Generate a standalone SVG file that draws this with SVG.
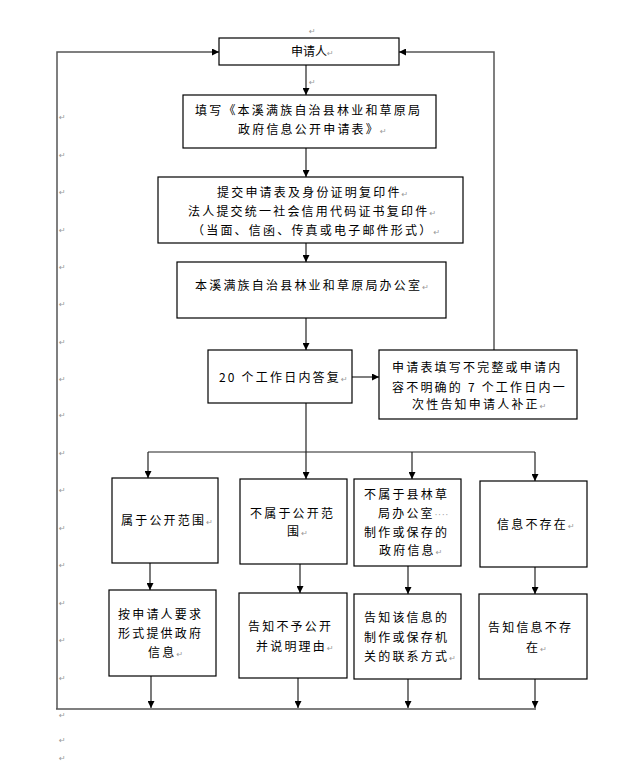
<svg xmlns="http://www.w3.org/2000/svg" width="644" height="764" viewBox="0 0 644 764">
<defs>
<marker id="ah" viewBox="0 0 10 10" refX="10" refY="5" markerWidth="7" markerHeight="7" markerUnits="userSpaceOnUse" orient="auto">
<path d="M0,0 L10,5 L0,10 Z" fill="#000"/>
</marker>
</defs>
<style>
.box{fill:#fff;stroke:#000;stroke-width:1.2}
.t{font-family:"Noto Sans CJK SC","Noto Sans",sans-serif;font-size:12px;letter-spacing:2.2px;fill:#000}
.t0{font-family:"Noto Sans CJK SC","Noto Sans",sans-serif;font-size:12px;fill:#000}
.c{fill:none;stroke:#222;stroke-width:1.2}
.g{fill:none;stroke:#555;stroke-width:1.5}
.m{font-family:"DejaVu Sans",sans-serif;font-size:8px;fill:#999;letter-spacing:0}
.d{font-family:"DejaVu Sans",sans-serif;font-size:8px;fill:#999;letter-spacing:1px}
</style>
<rect width="644" height="764" fill="#fff"/>
<g id="marks">
<text class="m" x="309" y="34">↵</text>
<text class="m" x="309" y="85">↵</text>
<text class="m" x="59" y="120">↵</text>
<text class="m" x="59" y="158">↵</text>
<text class="m" x="59" y="195">↵</text>
<text class="m" x="59" y="233">↵</text>
<text class="m" x="59" y="270">↵</text>
<text class="m" x="59" y="307">↵</text>
<text class="m" x="59" y="345">↵</text>
<text class="m" x="59" y="382">↵</text>
<text class="m" x="59" y="418">↵</text>
<text class="m" x="59" y="456">↵</text>
<text class="m" x="59" y="493">↵</text>
<text class="m" x="59" y="531">↵</text>
<text class="m" x="59" y="568">↵</text>
<text class="m" x="59" y="606">↵</text>
<text class="m" x="59" y="643">↵</text>
<text class="m" x="59" y="681">↵</text>
<text class="m" x="59" y="718">↵</text>
<text class="m" x="59" y="743">↵</text>
<text class="m" x="59" y="761">↵</text>
</g>
<g id="connectors">
<line class="c" x1="306" y1="65" x2="306" y2="95" marker-end="url(#ah)"/>
<line class="c" x1="306" y1="148" x2="306" y2="177" marker-end="url(#ah)"/>
<line class="c" x1="306" y1="243" x2="306" y2="262" marker-end="url(#ah)"/>
<line class="c" x1="306" y1="318" x2="306" y2="350" marker-end="url(#ah)"/>
<line class="g" x1="352" y1="377" x2="379" y2="377" marker-end="url(#ah)"/>
<polyline class="g" points="494,350 494,52 399,52" marker-end="url(#ah)"/>
<polyline class="g" points="57,709 57,52 219,52" marker-end="url(#ah)"/>
<line class="c" x1="306" y1="403" x2="306" y2="452"/>
<line class="c" x1="148" y1="452" x2="535" y2="452"/>
<line class="c" x1="148" y1="452" x2="148" y2="478" marker-end="url(#ah)"/>
<line class="c" x1="306" y1="452" x2="306" y2="479" marker-end="url(#ah)"/>
<line class="c" x1="412" y1="452" x2="412" y2="479" marker-end="url(#ah)"/>
<line class="c" x1="535" y1="452" x2="535" y2="481" marker-end="url(#ah)"/>
<line class="c" x1="150" y1="563" x2="150" y2="590" marker-end="url(#ah)"/>
<line class="c" x1="300" y1="564" x2="300" y2="593" marker-end="url(#ah)"/>
<line class="c" x1="408" y1="566" x2="408" y2="594" marker-end="url(#ah)"/>
<line class="c" x1="535" y1="567" x2="535" y2="594" marker-end="url(#ah)"/>
<line class="c" x1="151" y1="676" x2="151" y2="708" marker-end="url(#ah)"/>
<line class="c" x1="298" y1="678" x2="298" y2="708" marker-end="url(#ah)"/>
<line class="c" x1="408" y1="679" x2="408" y2="708" marker-end="url(#ah)"/>
<line class="c" x1="535" y1="679" x2="535" y2="708" marker-end="url(#ah)"/>
<line class="g" x1="56" y1="709" x2="536" y2="709"/>
</g>
<g id="n1">
<rect class="box" x="219" y="38" width="180" height="27"/>
<text class="t0" x="291" y="56">申请人<tspan class="m">↵</tspan></text>
</g>
<g id="n2">
<rect class="box" x="183" y="95" width="253" height="53"/>
<text class="t" x="195" y="115">填写《本溪满族自治县林业和草原局</text>
<text class="t" x="238" y="134">政府信息公开申请表》<tspan class="m">↵</tspan></text>
</g>
<g id="n3">
<rect class="box" x="158" y="177" width="305" height="66"/>
<text class="t" x="217" y="197">提交申请表及身份证明复印件<tspan class="m">↵</tspan></text>
<text class="t" x="188" y="216">法人提交统一社会信用代码证书复印件<tspan class="m">↵</tspan></text>
<text class="t" x="192" y="235">（当面、信函、传真或电子邮件形式）<tspan class="m">↵</tspan></text>
</g>
<g id="n4">
<rect class="box" x="177" y="262" width="269" height="56"/>
<text class="t" x="195" y="290">本溪满族自治县林业和草原局办公室<tspan class="m">↵</tspan></text>
</g>
<g id="n5">
<rect class="box" x="208" y="350" width="144" height="53"/>
<text class="t" x="219" y="382">20 个工作日内答复<tspan class="m">↵</tspan></text>
</g>
<g id="n6">
<rect class="box" x="379" y="350" width="198" height="69"/>
<text class="t" x="392" y="372">申请表填写不完整或申请内</text>
<text class="t" x="392" y="392">容不明确的 7 个工作日内一</text>
<text class="t" x="412" y="409">次性告知申请人补正<tspan class="m">↵</tspan></text>
</g>
<g id="a1">
<rect class="box" x="112" y="478" width="106" height="85"/>
<text class="t" x="121" y="525">属于公开范围<tspan class="m">↵</tspan></text>
</g>
<g id="b1">
<rect class="box" x="240" y="479" width="107" height="85"/>
<text class="t" x="250" y="518">不属于公开范</text>
<text class="t" x="287" y="536">围<tspan class="m">↵</tspan></text>
</g>
<g id="c1">
<rect class="box" x="354" y="479" width="107" height="87"/>
<text class="t" x="364" y="499">不属于县林草</text>
<text class="t" x="378" y="518">局办公室<tspan class="d">····</tspan></text>
<text class="t" x="364" y="537">制作或保存的</text>
<text class="t" x="379" y="555">政府信息<tspan class="m">↵</tspan></text>
</g>
<g id="d1">
<rect class="box" x="480" y="481" width="107" height="86"/>
<text class="t" x="497" y="529">信息不存在<tspan class="m">↵</tspan></text>
</g>
<g id="a2">
<rect class="box" x="109" y="590" width="107" height="86"/>
<text class="t" x="118" y="619">按申请人要求</text>
<text class="t" x="118" y="638">形式提供政府</text>
<text class="t" x="148" y="657">信息<tspan class="m">↵</tspan></text>
</g>
<g id="b2">
<rect class="box" x="239" y="593" width="108" height="85"/>
<text class="t" x="248" y="631">告知不予公开</text>
<text class="t" x="256" y="651">并说明理由<tspan class="m">↵</tspan></text>
</g>
<g id="c2">
<rect class="box" x="354" y="594" width="107" height="85"/>
<text class="t" x="364" y="622">告知该信息的</text>
<text class="t" x="364" y="642">制作或保存机</text>
<text class="t" x="364" y="661">关的联系方式<tspan class="m">↵</tspan></text>
</g>
<g id="d2">
<rect class="box" x="479" y="594" width="108" height="85"/>
<text class="t" x="488" y="632">告知信息不存</text>
<text class="t" x="526" y="652">在<tspan class="m">↵</tspan></text>
</g>
</svg>
